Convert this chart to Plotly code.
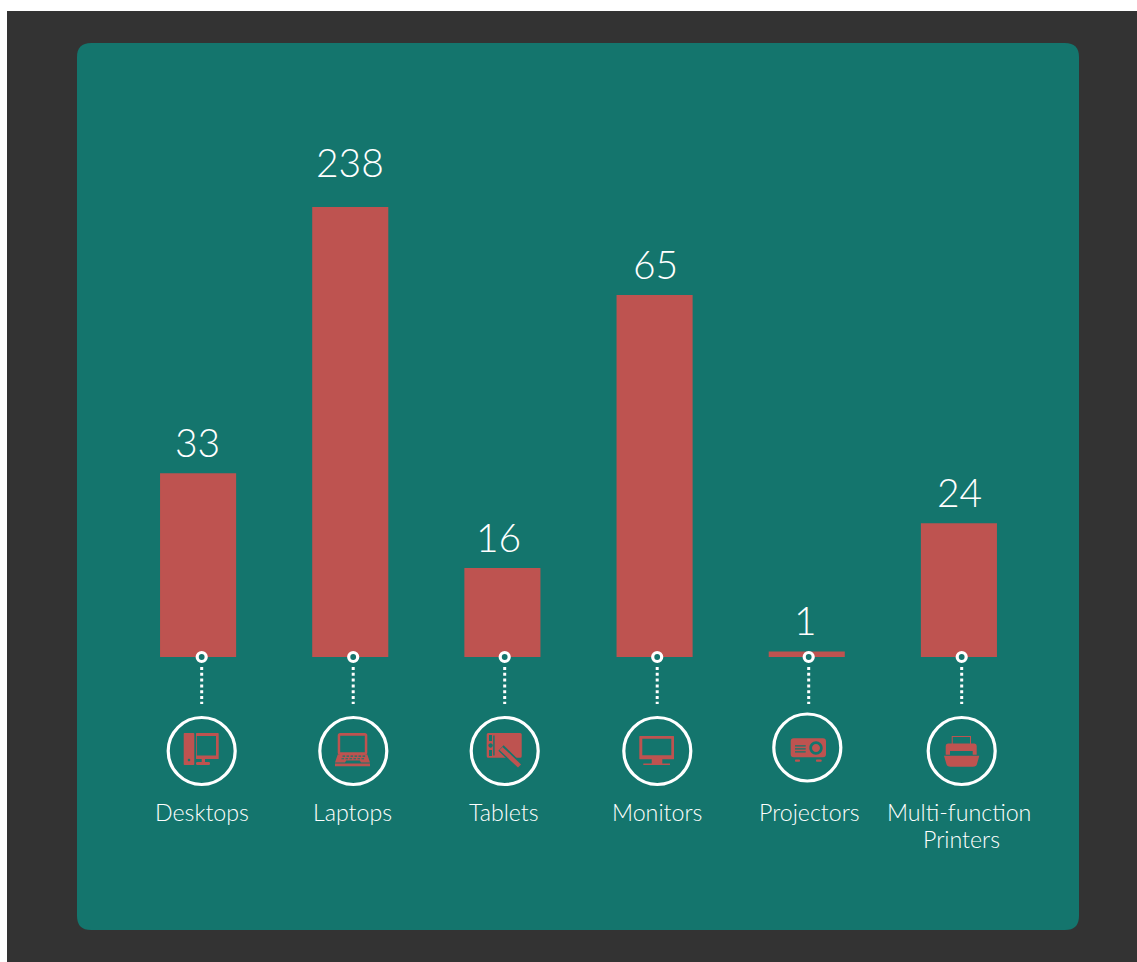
import plotly.graph_objects as go

# Device counts per product category
categories = ["Desktops", "Laptops", "Tablets", "Monitors", "Projectors", "Multi-function<br>Printers"]
values = [33, 238, 16, 65, 1, 24]
# The value axis stops short of the tallest bar, which is cut off at the plot edge
axis_max = 80.8

W, H = 1137, 962
DARK, TEAL, RED, WHITE = "#333333", "#14756D", "#BE5350", "#FFFFFF"
FONT = "Lato Light, Lato, sans-serif"

# Page-pixel anchors of the decorations beneath each bar
pin_x = [201.7, 353.2, 504.7, 657.2, 808.7, 961.7]
pin_y = 657
icon_x = [201.7, 353.3, 504.7, 657.3, 807.3, 961.7]
icon_y = [751, 751, 751, 751, 747.5, 751]
name_x = [202, 352, 503.5, 656.5, 809.5, 958.5]
number_x = [197, 350, 498, 655, 805, 959]
name_y = 812
name_line_gap = 27


def paper_path(x0, y0, x1, y1, r):
    """Rounded rectangle in page pixels, converted to paper coordinates."""
    X = lambda v: v / W
    Y = lambda v: 1 - v / H
    return (
        f"M{X(x0 + r)},{Y(y0)} L{X(x1 - r)},{Y(y0)} Q{X(x1)},{Y(y0)} {X(x1)},{Y(y0 + r)} "
        f"L{X(x1)},{Y(y1 - r)} Q{X(x1)},{Y(y1)} {X(x1 - r)},{Y(y1)} "
        f"L{X(x0 + r)},{Y(y1)} Q{X(x0)},{Y(y1)} {X(x0)},{Y(y1 - r)} "
        f"L{X(x0)},{Y(y0 + r)} Q{X(x0)},{Y(y0)} {X(x0 + r)},{Y(y0)} Z"
    )


def box(x0, y0, x1, y1, r=0):
    if r == 0:
        return f"M{x0},{y0} H{x1} V{y1} H{x0} Z "
    return (
        f"M{x0 + r},{y0} H{x1 - r} Q{x1},{y0} {x1},{y0 + r} V{y1 - r} Q{x1},{y1} {x1 - r},{y1} "
        f"H{x0 + r} Q{x0},{y1} {x0},{y1 - r} V{y0 + r} Q{x0},{y0} {x0 + r},{y0} Z "
    )


def disc(cx, cy, r):
    k = r * 0.5523
    return (
        f"M{cx - r},{cy} C{cx - r},{cy - k} {cx - k},{cy - r} {cx},{cy - r} "
        f"C{cx + k},{cy - r} {cx + r},{cy - k} {cx + r},{cy} "
        f"C{cx + r},{cy + k} {cx + k},{cy + r} {cx},{cy + r} "
        f"C{cx - k},{cy + r} {cx - r},{cy + k} {cx - r},{cy} Z "
    )


def fill_shape(path, color=RED):
    return dict(type="path", path=path, xref="x2", yref="y2", fillcolor=color, line_width=0, layer="above")


def stroke_shape(x0, y0, x1, y1, color, width):
    return dict(type="line", x0=x0, y0=y0, x1=x1, y1=y1, xref="x2", yref="y2",
                line=dict(color=color, width=width), layer="above")


def keyboard_holes():
    out = ""
    for row_y, start, stop in ((755.6, 342.5, 364), (758.2, 341.5, 365)):
        x = start
        while x < stop:
            out += box(x, row_y, x + 2.6, row_y + 1.1)
            x += 4
    return out


icons = [
    # Desktop tower and monitor
    fill_shape(box(183.7, 733, 194.3, 765, 0.8) + disc(189, 760, 1.3)
               + box(196, 733, 218.7, 759, 0.6) + box(196.8, 736, 216, 755.5)
               + box(201.7, 759, 205, 762) + box(196, 762, 210, 765, 1.2)),
    # Laptop
    fill_shape(box(337.7, 733, 367.3, 755, 2.5) + box(340.2, 735.7, 364.8, 752.3)),
    fill_shape("M337.7,754.5 H367.3 L370,762.6 H361 L359.8,760.4 H346.2 L345,762.6 H335 Z " + keyboard_holes()),
    fill_shape(box(335, 763.4, 370, 766.3)),
    # Pen tablet
    fill_shape(box(486.7, 733, 521.7, 757.7, 1.5) + disc(490.6, 745.5, 2.2)
               + box(489, 735, 492, 741) + box(489, 750, 492, 756)
               + box(493.2, 735.6, 494.6, 755.5)),
    stroke_shape(501, 748, 521, 767.5, TEAL, 7.5),
    stroke_shape(501, 748.5, 519.5, 766, RED, 4.4),
    # Monitor
    fill_shape(box(639.3, 736, 674, 759.3, 0.6) + box(642.3, 738.7, 671.3, 755.3)
               + box(651.7, 759.3, 662.3, 763.4) + box(643.3, 763.4, 670, 765)),
    # Projector
    fill_shape(box(790.7, 738.3, 826, 757.3, 3) + disc(816, 748, 6.7)
               + box(795, 745.3, 805.7, 746.6) + box(795, 748.3, 805.7, 749.6)
               + box(795, 751.3, 805.7, 752.6)),
    fill_shape(disc(816, 748, 4)),
    fill_shape(box(795, 759.4, 800, 761.8, 0.8) + box(816, 759.4, 821.7, 761.8, 0.8)),
    # Printer
    fill_shape(box(951.7, 736, 971, 745) + box(952.7, 737, 970, 744)),
    fill_shape("M948,743.5 H974.5 Q976.7,743.5 976.7,746 V754.8 H945.7 V746 Q945.7,743.5 948,743.5 Z "
               + box(950, 751, 972.7, 754.8)),
    fill_shape("M944,755.8 H979.3 L977,764 Q976.4,766.8 973,766.8 H950.5 Q947,766.8 946.4,764 Z"),
]

shapes = [
    dict(type="rect", xref="paper", yref="paper", x0=7 / W, x1=1, y0=0, y1=1 - 11 / H,
         fillcolor=DARK, line_width=0, layer="below"),
    dict(type="path", xref="paper", yref="paper", path=paper_path(77, 43, 1079, 930, 14),
         fillcolor=TEAL, line_width=0, layer="below"),
]
for cx, cy in zip(icon_x, icon_y):
    shapes.append(dict(type="circle", xref="x2", yref="y2", x0=cx - 33.5, x1=cx + 33.5,
                       y0=cy - 33.5, y1=cy + 33.5, line=dict(color=WHITE, width=3.2),
                       fillcolor="rgba(0,0,0,0)", layer="above"))
shapes += icons

fig = go.Figure()

fig.add_trace(go.Bar(x=categories, y=values, width=0.5, marker=dict(color=RED, line_width=0),
                     hoverinfo="skip", showlegend=False, cliponaxis=True))

# Dotted leader from each bar down to its icon
for px in pin_x:
    fig.add_trace(go.Scatter(x=[px, px], y=[667, 704], mode="lines", xaxis="x2", yaxis="y2",
                             line=dict(color=WHITE, width=3, dash="3px,2.8px"),
                             hoverinfo="skip", showlegend=False))

# Ring where each leader meets the baseline
fig.add_trace(go.Scatter(x=pin_x, y=[pin_y] * len(pin_x), mode="markers", xaxis="x2", yaxis="y2",
                         marker=dict(size=9, color=TEAL, line=dict(color=WHITE, width=3.2)),
                         hoverinfo="skip", showlegend=False))

annotations = []
for val, nx in zip(values, number_x):
    clipped = val > axis_max
    # Numbers sit above the visible end of the bar
    annotations.append(dict(x=nx, xref="x2", y=min(val, axis_max), yref="y", yshift=45 if clipped else 31,
                            text=str(val), showarrow=False, yanchor="middle", xanchor="center",
                            font=dict(family=FONT, size=39, color=WHITE)))
for cat, nx, px in zip(categories, name_x, pin_x):
    # Each line of a category name is placed on its own so the line gap stays tight
    for k, line in enumerate(cat.split("<br>")):
        annotations.append(dict(x=nx if k == 0 else px, xref="x2", y=name_y + k * name_line_gap, yref="y2",
                                text=line, showarrow=False, yanchor="middle", xanchor="center",
                                font=dict(family=FONT, size=23.2, color=WHITE)))

fig.update_layout(
    width=W, height=H, margin=dict(l=0, r=0, t=0, b=0, autoexpand=False),
    paper_bgcolor=WHITE, plot_bgcolor="rgba(0,0,0,0)", bargap=0.5, showlegend=False,
    xaxis=dict(domain=[122 / W, 1035 / W], type="category", categoryorder="array", categoryarray=categories,
               range=[-0.5, 5.5], visible=False, fixedrange=True),
    yaxis=dict(domain=[1 - 657 / H, 1 - 207 / H], range=[0, axis_max], visible=False, fixedrange=True),
    xaxis2=dict(domain=[0, 1], range=[0, W], visible=False, anchor="y2", fixedrange=True),
    yaxis2=dict(domain=[0, 1], range=[H, 0], visible=False, anchor="x2", fixedrange=True),
    shapes=shapes,
    annotations=annotations,
)

fig.write_html("out.html", config=dict(displayModeBar=False))
